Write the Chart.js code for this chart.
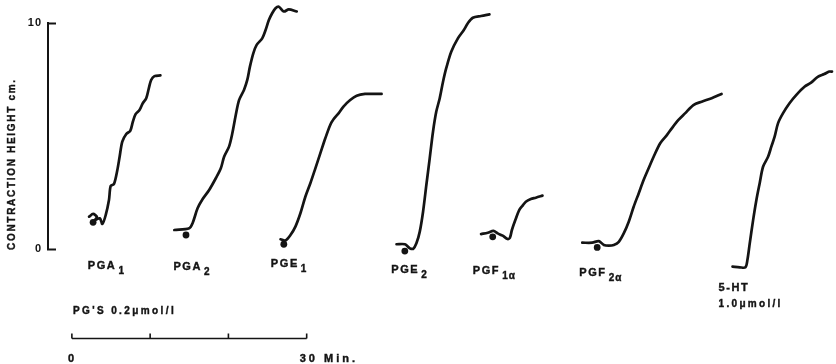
<!DOCTYPE html>
<html>
<head>
<meta charset="utf-8">
<script src="https://cdn.jsdelivr.net/npm/chart.js@4.4.1/dist/chart.umd.min.js"></script>
<style>
  html, body { margin: 0; padding: 0; background: #fff; }
</style>
</head>
<body>
<canvas id="contractionChart" width="836" height="364"></canvas>
<script>
// temps en minutes (0 = debut de la barre d'echelle), hauteur de contraction en cm
const pga1Time   = [2.20, 2.71, 3.20, 2.95, 3.56, 3.90, 4.32, 4.74, 4.96, 5.38, 5.81, 6.10, 6.44, 6.95, 7.46, 7.79, 8.14, 8.64, 9.06, 9.50, 9.83, 10.13, 10.55, 11.31];
const pga1Height = [1.43, 1.55, 1.42, 1.28, 1.36, 1.11, 1.50, 2.17, 2.79, 2.88, 3.50, 4.08, 4.75, 5.09, 5.23, 5.63, 5.97, 6.15, 6.45, 6.67, 7.11, 7.48, 7.65, 7.68];

const pga2Time   = [13.09, 15.00, 15.42, 16.06, 16.69, 17.54, 18.39, 19.03, 19.45, 20.08, 20.50, 20.94, 21.36, 21.99, 22.41, 22.75, 23.18, 23.61, 24.32, 24.75, 25.17, 25.59, 26.02, 26.44, 27.08, 27.71, 28.73];
const pga2Height = [0.84, 0.92, 1.14, 1.80, 2.20, 2.61, 3.13, 3.57, 4.08, 4.53, 5.12, 5.93, 6.59, 7.04, 7.48, 8.07, 8.66, 9.03, 9.32, 9.69, 10.13, 10.43, 10.65, 10.72, 10.51, 10.60, 10.51];

const pge1Time   = [26.66, 27.29, 27.93, 28.56, 29.20, 29.83, 30.47, 31.11, 31.74, 32.38, 33.01, 33.43, 34.07, 34.70, 35.56, 36.39, 37.46, 38.73, 39.57];
const pge1Height = [0.43, 0.38, 0.62, 0.99, 1.58, 2.31, 2.91, 3.57, 4.23, 4.90, 5.49, 5.74, 6.00, 6.30, 6.59, 6.78, 6.86, 6.86, 6.86];

const pge2Time   = [41.48, 42.55, 43.18, 43.60, 44.02, 44.45, 44.87, 45.29, 45.72, 46.14, 46.56, 47.00, 47.42, 47.83, 48.47, 49.32, 50.08, 50.59, 51.23, 52.28, 53.35];
const pge2Height = [0.21, 0.21, 0.03, 0.00, 0.25, 0.77, 1.65, 2.83, 4.01, 5.19, 6.08, 6.67, 7.40, 8.00, 8.73, 9.32, 9.69, 9.99, 10.23, 10.31, 10.38];

const pgf1aTime   = [52.28, 53.14, 53.86, 54.41, 55.04, 55.68, 55.97, 56.22, 56.66, 57.17, 57.59, 58.00, 58.64, 59.28, 60.13];
const pgf1aHeight = [0.66, 0.72, 0.80, 0.69, 0.59, 0.44, 0.50, 0.84, 1.28, 1.73, 1.92, 2.09, 2.21, 2.27, 2.36];

const pgf2aTime   = [65.21, 66.48, 67.33, 67.97, 68.61, 69.24, 69.88, 70.51, 71.15, 71.78, 72.42, 73.05, 73.69, 74.33, 75.17, 76.02, 76.65, 77.50, 78.34, 79.41, 80.47, 81.74, 83.01];
const pgf2aHeight = [0.28, 0.28, 0.35, 0.18, 0.15, 0.18, 0.32, 0.69, 1.21, 1.87, 2.46, 3.05, 3.57, 4.08, 4.68, 5.04, 5.34, 5.71, 6.00, 6.37, 6.52, 6.67, 6.86];

const htTime   = [84.41, 85.34, 86.06, 86.31, 86.61, 87.04, 87.46, 87.88, 88.31, 88.95, 89.37, 89.79, 90.22, 90.85, 91.69, 92.54, 93.60, 94.45, 95.30, 96.14, 96.78, 97.12];
const htHeight = [-0.78, -0.81, -0.81, -0.49, 0.25, 1.28, 2.17, 2.91, 3.64, 4.08, 4.53, 4.97, 5.56, 6.00, 6.45, 6.81, 7.18, 7.36, 7.62, 7.74, 7.85, 7.85];

// points d'injection (les petits ronds noirs)
const doseTimes   = [2.71, 14.58, 27.08, 42.54, 53.77, 67.12, 85.68];
const doseHeights = [1.18, 0.62, 0.21, -0.09, 0.54, 0.07, -1.06];

// etiquettes sous chaque trace
const labelMain    = ['PGA', 'PGA', 'PGE', 'PGE', 'PGF', 'PGF', '5-HT'];
const labelSub     = ['1', '2', '1', '2', '1\u03b1', '2\u03b1', ''];
const labelTimes   = [2.03, 12.97, 25.42, 40.80, 51.22, 64.83, 82.63];
const labelHeights = [-0.77, -0.80, -0.66, -0.93, -0.97, -1.06, -1.73];

const yTicks = [0, 10];
const scaleBarMinutes = [0, 10, 20, 30];

const ink = '#141414';
const fontFamily = "'Liberation Sans', Arial, sans-serif";

const traces = [
    [pga1Time, pga1Height],
    [pga2Time, pga2Height],
    [pge1Time, pge1Height],
    [pge2Time, pge2Height],
    [pgf1aTime, pgf1aHeight],
    [pgf2aTime, pgf2aHeight],
    [htTime, htHeight]
];

const datasets = traces.map(function (tr) {
    return {
        type: 'line',
        data: tr[0].map((t, i) => ({ x: t, y: tr[1][i] })),
        borderColor: ink,
        borderWidth: 2.7,
        borderCapStyle: 'round',
        borderJoinStyle: 'round',
        pointRadius: 0,
        tension: 0.3,
        fill: false,
        clip: false
    };
});

datasets.push({
    type: 'scatter',
    data: doseTimes.map((t, i) => ({ x: t, y: doseHeights[i] })),
    backgroundColor: ink,
    borderWidth: 0,
    pointRadius: 3.4,
    clip: false
});

// texte un peu plus gras, comme la machine a ecrire de l'original
function inkText(ctx, txt, px, py) {
    ctx.fillText(txt, px, py);
    ctx.lineWidth = 0.4;
    ctx.strokeText(txt, px, py);
}

// petit plugin pour les annotations (titre, graduations, etiquettes, barre d'echelle)
const annotations = {
    id: 'annotations',
    beforeDraw(chart) {
        chart.ctx.letterSpacing = '1px';
    },
    afterDraw(chart) {
        const ctx = chart.ctx;
        const x = chart.scales.x;
        const y = chart.scales.y;
        const area = chart.chartArea;
        ctx.save();
        ctx.strokeStyle = ink;
        ctx.fillStyle = ink;
        ctx.lineWidth = 2;

        // graduations vers l'interieur
        yTicks.forEach(function (v) {
            const py = Math.round(y.getPixelForValue(v)) + 0.5;
            ctx.beginPath();
            ctx.moveTo(area.left - 1, py);
            ctx.lineTo(area.left + 8, py);
            ctx.stroke();
        });

        // titre de l'axe vertical
        ctx.save();
        ctx.translate(12, area.bottom + 1);
        ctx.rotate(-Math.PI / 2);
        ctx.font = 'bold 10px ' + fontFamily;
        ctx.letterSpacing = '1.7px';
        ctx.textAlign = 'left';
        ctx.textBaseline = 'middle';
        inkText(ctx, 'CONTRACTION HEIGHT cm.', 0, 0);
        ctx.restore();

        // etiquettes des traces
        ctx.textBaseline = 'middle';
        ctx.textAlign = 'left';
        labelMain.forEach(function (txt, i) {
            const px = x.getPixelForValue(labelTimes[i]);
            const py = y.getPixelForValue(labelHeights[i]);
            ctx.font = 'bold 11px ' + fontFamily;
            ctx.letterSpacing = '1.6px';
            inkText(ctx, txt, px, py);
            const w = ctx.measureText(txt).width;
            if (labelSub[i]) {
                ctx.font = 'bold 10px ' + fontFamily;
                ctx.letterSpacing = '1px';
                inkText(ctx, labelSub[i], px + w + 2, py + 5);
            }
        });
        ctx.font = 'bold 10px ' + fontFamily;
        ctx.letterSpacing = '2.3px';
        const htX = x.getPixelForValue(labelTimes[6]);
        inkText(ctx, '1.0\u03bcmol/l', htX, y.getPixelForValue(labelHeights[6]) + 16);

        // concentration des PG
        const x0 = x.getPixelForValue(scaleBarMinutes[0]);
        const x30 = x.getPixelForValue(scaleBarMinutes[scaleBarMinutes.length - 1]);
        ctx.letterSpacing = '2.4px';
        inkText(ctx, "PG'S 0.2\u03bcmol/l", x0 + 1, area.bottom + 62);

        // barre d'echelle du temps
        const barY = area.bottom + 89.5;
        ctx.lineWidth = 1.6;
        ctx.beginPath();
        ctx.moveTo(x0, barY);
        ctx.lineTo(x30, barY);
        scaleBarMinutes.forEach(function (m) {
            const px = x.getPixelForValue(m);
            ctx.moveTo(px, barY);
            ctx.lineTo(px, barY - 5);
        });
        ctx.stroke();

        ctx.font = 'bold 11px ' + fontFamily;
        ctx.letterSpacing = '3px';
        ctx.textAlign = 'left';
        inkText(ctx, '0', x0 - 4, area.bottom + 110);
        inkText(ctx, '30 Min.', x30 - 7, area.bottom + 110);

        ctx.restore();
    }
};

const ctx = document.getElementById('contractionChart').getContext('2d');
const contractionChart = new Chart(ctx, {
    data: { datasets: datasets },
    options: {
        responsive: false,
        animation: false,
        layout: {
            padding: { top: 23, bottom: 115, left: 0, right: 0 }
        },
        plugins: {
            legend: { display: false },
            tooltip: { enabled: false }
        },
        scales: {
            x: {
                type: 'linear',
                display: false,
                min: -3.051,
                max: 97.12
            },
            y: {
                type: 'linear',
                min: 0,
                max: 10,
                afterFit: function (scale) { scale.width = 48; },
                afterBuildTicks: function (scale) {
                    scale.ticks = yTicks.map(v => ({ value: v }));
                },
                grid: { display: true, drawOnChartArea: false, drawTicks: false },
                border: { display: true, color: ink, width: 2 },
                ticks: {
                    color: ink,
                    padding: 6,
                    font: { family: fontFamily, size: 11, weight: 'bold' }
                },
                title: { display: false }
            }
        }
    },
    plugins: [annotations]
});
</script>
</body>
</html>
